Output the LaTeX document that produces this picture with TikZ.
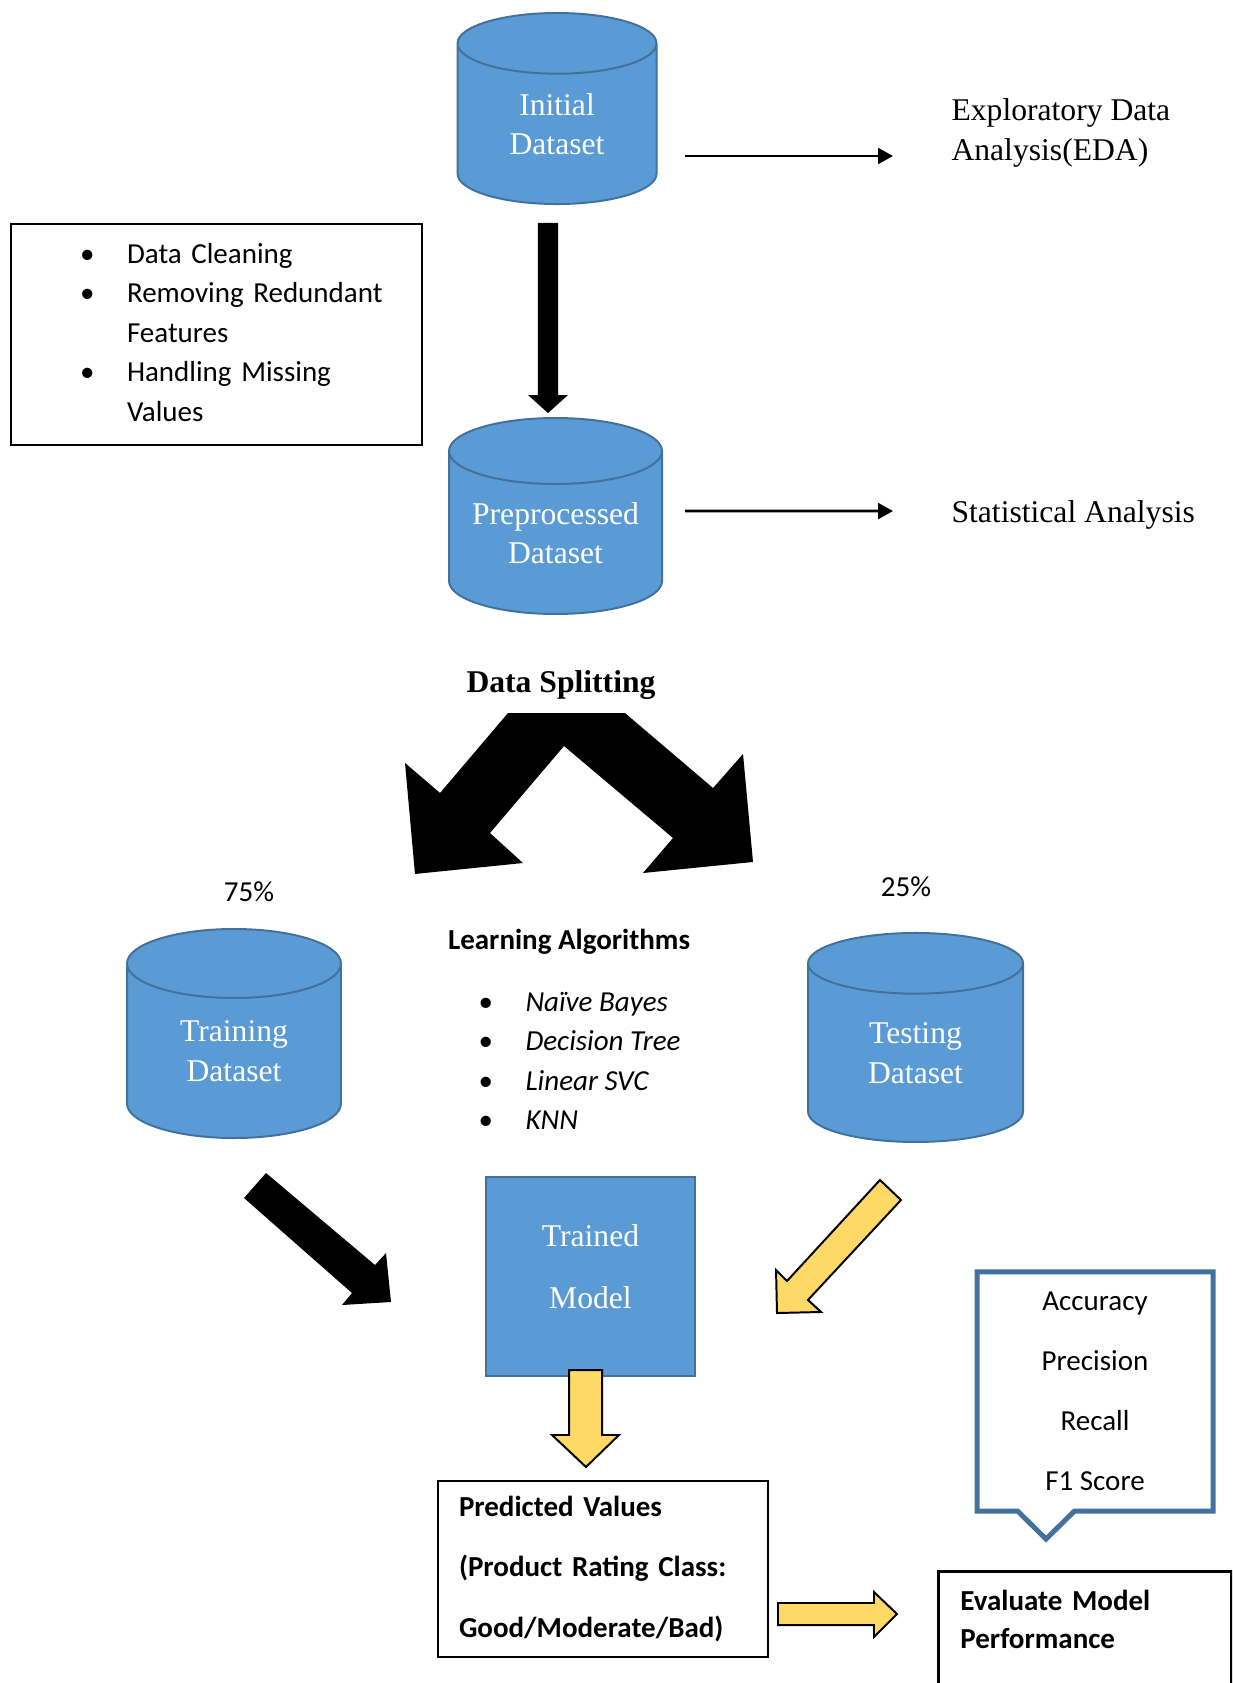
\documentclass[tikz,border=0pt]{standalone}
\usepackage{fontspec}
\setmainfont{Liberation Serif}
\newfontfamily\calibri{Carlito}
\usetikzlibrary{shapes.geometric,arrows.meta}

\definecolor{dbfill}{HTML}{5B9BD5}
\definecolor{dbedge}{HTML}{41719C}
\definecolor{arrowyellow}{HTML}{FFD966}

\tikzset{
  db/.style={cylinder, shape border rotate=90, aspect=0.64, anchor=shape center,
    draw=dbedge, fill=dbfill, line width=0.75pt, inner sep=0pt,
    text=white, align=center, font=\fontsize{12}{15}\selectfont},
  thinarr/.style={line width=1.1pt, -{Triangle[length=0.2cm,width=0.21cm]}},
  fatyellow/.style={fill=arrowyellow, draw=black, line width=0.75pt},
  plain/.style={inner sep=0pt, align=left},
  sans/.style={inner sep=0pt, font=\calibri\fontsize{11}{15}\selectfont},
}

\begin{document}
\begin{tikzpicture}
    \useasboundingbox (0,0) rectangle (16.427,-22.44);
    \clip (0,0) rectangle (16.427,-22.44);

    % Bases de dades
    \node[db, minimum width=2.653cm, minimum height=2.547cm] (init) at (7.427,-1.447) {Initial\\Dataset};
    \node[db, aspect=0.55, minimum width=2.84cm, minimum height=2.613cm] (prep) at (7.407,-6.88) {\makebox[1.6cm]{Preprocessed}\\Dataset};
    \node[db, minimum width=2.853cm, minimum height=2.787cm] (train) at (3.12,-13.78) {Training\\Dataset};
    \node[db, minimum width=2.867cm, minimum height=2.787cm] (test) at (12.207,-13.833) {Testing\\Dataset};

    % Analisi a la dreta
    \node[plain, anchor=west, font=\fontsize{12}{15}\selectfont] (eda) at (12.68,-1.773) {Exploratory Data\\Analysis(EDA)};
    \node[plain, anchor=west, font=\fontsize{12}{15}\selectfont] (stat) at (12.68,-6.867) {Statistical Analysis};
    \draw[thinarr] ([shift={(1.707,-0.633)}]init.shape center) -- ([shift={(-0.773,-0.307)}]eda.west);
    \draw[thinarr] ([shift={(1.727,0.067)}]prep.shape center) -- ([shift={(-0.773,0.053)}]stat.west);

    % Preprocessat
    \node[draw, line width=0.5pt, sans, text width=5.48cm, minimum height=2.947cm, align=left] (clean) at (2.887,-4.46)
      {\hspace*{0.92cm}\begin{tabular}{@{}p{0.627cm}@{}l@{}}
        \textbullet & Data Cleaning\\
        \textbullet & Removing Redundant\\
                    & Features\\
        \textbullet & Handling Missing\\
                    & Values
      \end{tabular}};
    \fill (7.173,-2.973) -- (7.44,-2.973) -- (7.44,-5.267) -- (7.573,-5.267) -- (7.307,-5.507) -- (7.04,-5.267) -- (7.173,-5.267) -- cycle;

    % Divisio de les dades
    \node[inner sep=0pt, font=\bfseries\fontsize{12}{14}\selectfont] (split) at (7.48,-9.137) {Data Splitting};
    \fill (6.773,-9.507) -- (5.867,-10.573) -- (5.4,-10.173) -- (5.533,-11.653) -- (6.973,-11.507) -- (6.533,-11.107)
       -- (7.52,-9.947) -- (8.973,-11.173) -- (8.573,-11.64) -- (10.04,-11.493) -- (9.907,-10.053) -- (9.507,-10.507)
       -- (8.333,-9.507) -- cycle;
    \node[sans] (p75) at (3.32,-11.893) {75\%};
    \node[sans] (p25) at (12.08,-11.827) {25\%};

    % Algorismes
    \node[inner sep=0pt, font=\calibri\bfseries\fontsize{11}{15}\selectfont] (algs) at (7.587,-12.56) {Learning Algorithms};
    \node[sans, anchor=west] (alglist) at (6.373,-14.17)
      {\begin{tabular}{@{}p{0.627cm}@{}l@{}}
        \textbullet & \textit{Naïve Bayes}\\
        \textbullet & \textit{Decision Tree}\\
        \textbullet & \textit{Linear SVC}\\
        \textbullet & \textit{KNN}
      \end{tabular}};

    % Model entrenat
    \node[draw=dbedge, fill=dbfill, line width=0.75pt, minimum width=2.787cm, minimum height=2.653cm,
      text=white, align=center, text depth=0.27cm, font=\fontsize{12}{23.4}\selectfont] (model) at (7.873,-17.02) {Trained\\Model};
    \fill (3.547,-15.64) -- (5.0,-16.867) -- (5.147,-16.707) -- (5.213,-17.36) -- (4.56,-17.4) -- (4.693,-17.24) -- (3.253,-15.973) -- cycle;
    \filldraw[fatyellow] (11.733,-15.733) -- (12.013,-16.0) -- (10.773,-17.333) -- (10.947,-17.493) -- (10.36,-17.507)
       -- (10.347,-16.933) -- (10.493,-17.08) -- cycle;
    \filldraw[fatyellow] (7.587,-18.267) -- (8.027,-18.267) -- (8.027,-19.133) -- (8.253,-19.133) -- (7.813,-19.56)
       -- (7.36,-19.133) -- (7.587,-19.133) -- cycle;

    % Prediccio i avaluacio
    \node[draw, line width=0.75pt, text width=3.84cm, inner xsep=0.28cm, inner ysep=0pt, minimum height=2.347cm,
      align=left, font=\calibri\bfseries\fontsize{11}{22.9}\selectfont] (pred) at (8.04,-20.92)
      {Predicted Values\\(Product Rating Class:\\Good/Moderate/Bad)};
    \filldraw[fatyellow] (10.373,-21.373) -- (11.653,-21.373) -- (11.653,-21.227) -- (11.96,-21.52) -- (11.653,-21.827)
       -- (11.653,-21.667) -- (10.373,-21.667) -- cycle;
    \node[draw, line width=1.1pt, anchor=north west, text width=3.32cm, inner xsep=0.293cm, inner ysep=0.25cm,
      text depth=2cm, align=left, font=\calibri\bfseries\fontsize{11}{14.4}\selectfont] (eval) at (12.493,-20.933)
      {Evaluate Model\\Performance};

    % Metriques
    \node[inner sep=0pt, minimum width=3.133cm, minimum height=3.173cm, align=center,
      font=\calibri\fontsize{11}{22.7}\selectfont] (metrics) at (14.6,-18.553) {Accuracy\\Precision\\Recall\\F1 Score};
    \coordinate (mtip) at (13.947,-20.52);
    \draw[dbedge, line width=1.9pt] (metrics.south west) -- (metrics.north west) -- (metrics.north east) -- (metrics.south east)
       -- ([xshift=0.38cm]mtip |- metrics.south) -- (mtip) -- ([xshift=-0.38cm]mtip |- metrics.south) -- cycle;
\end{tikzpicture}
\end{document}
